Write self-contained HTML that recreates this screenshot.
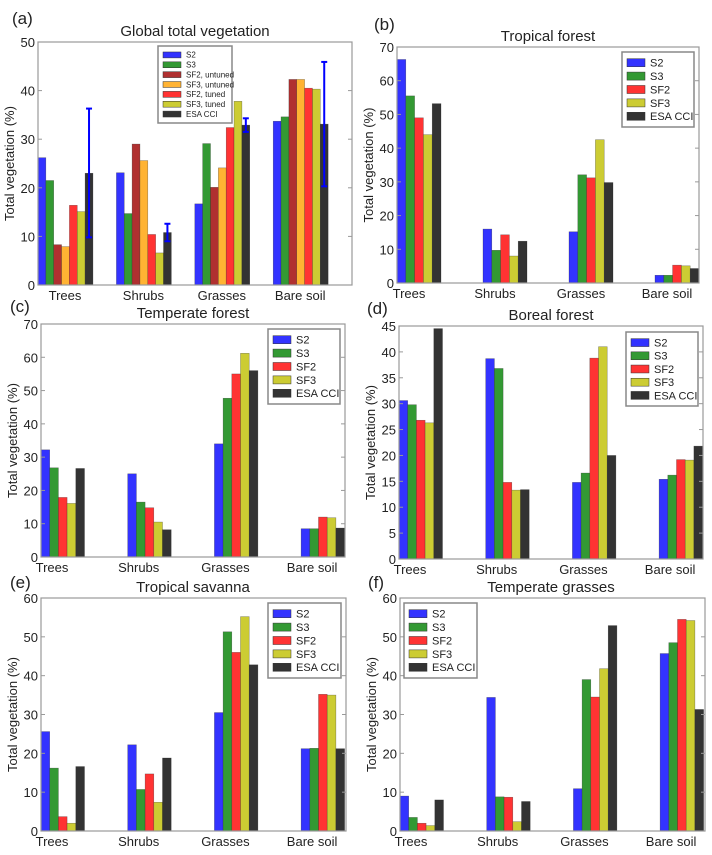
<!DOCTYPE html>
<html><head><meta charset="utf-8"><style>
body{margin:0;background:#fff}
svg{display:block;font-family:"Liberation Sans","DejaVu Sans",sans-serif}
</style></head><body>
<svg id="fig" width="712" height="855" viewBox="0 0 712 855"></svg>
<script>
const categories = ["Trees","Shrubs","Grasses","Bare soil"];
const seriesA = ["S2","S3","SF2, untuned","SF3, untuned","SF2, tuned","SF3, tuned","ESA CCI"];
const seriesB = ["S2","S3","SF2","SF3","ESA CCI"];
const valuesA = [[26.2,23.1,16.7,33.7],[21.5,14.7,29.1,34.6],[8.3,29.0,20.1,42.3],[7.9,25.6,24.1,42.3],[16.4,10.4,32.4,40.5],[15.1,6.6,37.8,40.3],[23.0,10.8,32.9,33.1]];
const errLowA = [9.8,9.0,31.5,20.3];
const errHighA = [36.3,12.6,34.3,45.9];
const valuesB = [[66.3,16,15.2,2.3],[55.5,9.7,32.1,2.3],[49,14.3,31.2,5.3],[44,8,42.5,5.1],[53.2,12.4,29.8,4.3]];
const valuesC = [[32.2,25,34,8.5],[26.8,16.5,47.7,8.5],[17.9,14.8,55,12],[16.1,10.5,61.2,11.8],[26.6,8.2,56,8.7]];
const valuesD = [[30.6,38.7,14.8,15.4],[29.8,36.8,16.6,16.2],[26.8,14.8,38.8,19.2],[26.3,13.3,41,19.1],[44.5,13.4,20,21.8]];
const valuesE = [[25.6,22.2,30.5,21.2],[16.2,10.7,51.3,21.3],[3.7,14.7,46,35.2],[2,7.4,55.2,35],[16.6,18.8,42.8,21.2]];
const valuesF = [[9,34.4,10.9,45.7],[3.5,8.8,39,48.5],[2,8.7,34.5,54.5],[1.4,2.4,41.8,54.2],[8,7.6,52.9,31.3]];
const ticksA=[0,10,20,30,40,50], ticksB=[0,10,20,30,40,50,60,70], ticksD=[0,5,10,15,20,25,30,35,40,45], ticksE=[0,10,20,30,40,50,60];

const colA=["#3333ff","#339933","#b03030","#ffb333","#ff3333","#cccc33","#333333"];
const colB=["#3333ff","#339933","#ff3333","#cccc33","#333333"];
const NS="http://www.w3.org/2000/svg";
const svg=document.getElementById('fig');
function mk(tag,attrs,parent,text){const e=document.createElementNS(NS,tag);for(const k in attrs)e.setAttribute(k,attrs[k]);if(text!==undefined)e.textContent=text;(parent||svg).appendChild(e);return e;}

function panel(p){
  const g=mk('g',{});
  
  
  const y=v=>p.bottom-(v/p.ymax)*(p.bottom-p.top);
  const n=p.series.length;
  p.values.forEach((row,si)=>{
    row.forEach((v,ci)=>{
      const x=p.left+ci*p.spacing+si*p.bw;
      const r=mk('rect',{x:x,y:y(v),width:p.bw,height:p.bottom-y(v),fill:p.colors[si],stroke:"#222",'stroke-width':0.5,'stroke-opacity':0.5},g);
      
      
    });
  });
  if(p.errLow){
    p.errLow.forEach((lo,ci)=>{
      const cx=p.left+ci*p.spacing+(n-0.5)*p.bw;
      const eg=mk('g',{stroke:"#0000ff",'stroke-width':2},g);
      
      
      mk('line',{x1:cx,x2:cx,y1:y(lo),y2:y(p.errHigh[ci])},eg);
      mk('line',{x1:cx-3,x2:cx+3,y1:y(lo),y2:y(lo)},eg);
      mk('line',{x1:cx-3,x2:cx+3,y1:y(p.errHigh[ci]),y2:y(p.errHigh[ci])},eg);
    });
  }
  const ax=mk('rect',{x:p.left,y:p.top,width:p.right-p.left,height:p.bottom-p.top,fill:"none",stroke:"#999",'stroke-width':1.2},g);
  
  
  p.ticks.forEach(t=>{
    mk('line',{x1:p.left,x2:p.left+4,y1:y(t),y2:y(t),stroke:"#999"},g);
    mk('line',{x1:p.right,x2:p.right-4,y1:y(t),y2:y(t),stroke:"#999"},g);
    const tl=mk('text',{x:p.left-3,y:y(t)+5,'text-anchor':'end','font-size':13,fill:"#222"},g,String(t));
    
    
  });
  categories.forEach((c,ci)=>{
    const cx=p.left+ci*p.spacing+p.labOff;
    const t=mk('text',{x:cx,y:p.bottom+15,'text-anchor':'middle','font-size':13,fill:"#222"},g,c);
    
    
  });
  const tt=mk('text',{x:p.titleX,y:p.top-6,'text-anchor':'middle','font-size':15,fill:"#222"},g,p.title);
  
  
  const pl=mk('text',{x:p.plX,y:p.plY,'font-size':17,fill:"#222"},g,'('+p.id+')');
  
  
  const yl=mk('text',{x:0,y:0,transform:`translate(${p.left-24},${(p.top+p.bottom)/2}) rotate(-90)`,'text-anchor':'middle','font-size':13,fill:"#222"},g,'Total vegetation (%)');
  
  
  // legend
  const L=p.leg;
  const lg=mk('g',{},g);
  
  
  mk('rect',{x:L.x,y:L.y,width:L.w,height:L.h,fill:"#fff",stroke:"#888",'stroke-width':1.5},lg);
  const step=(L.h-8)/n;
  p.series.forEach((s,si)=>{
    const yy=L.y+4+step*si+step/2;
    const e=mk('g',{},lg);
    
    
    mk('rect',{x:L.x+5,y:yy-step*0.3,width:L.sw,height:step*0.6,fill:p.colors[si],stroke:"#333",'stroke-width':0.5},e);
    mk('text',{x:L.x+L.sw+10,y:yy+L.fs*0.35,'font-size':L.fs,fill:"#222"},e,s);
  });
}

panel({id:'a',title:'Global total vegetation',left:38,right:352,top:42,bottom:285,ymax:50,ticks:ticksA,spacing:78.4,bw:7.85,labOff:27,values:valuesA,series:seriesA,colors:colA,errLow:errLowA,errHigh:errHighA,titleX:195,plX:12,plY:24,leg:{x:158,y:46,w:74,h:77,sw:18,fs:8}});
panel({id:'b',title:'Tropical forest',left:397,right:699,top:47,bottom:283,ymax:70,ticks:ticksB,spacing:86,bw:8.8,labOff:12,values:valuesB,series:seriesB,colors:colB,titleX:548,plX:374,plY:30,leg:{x:622,y:52,w:72,h:75,sw:18,fs:11}});
panel({id:'c',title:'Temperate forest',left:41,right:345,top:324,bottom:557,ymax:70,ticks:ticksB,spacing:86.7,bw:8.7,labOff:11,values:valuesC,series:seriesB,colors:colB,titleX:193,plX:10,plY:312,leg:{x:268,y:329,w:72,h:75,sw:18,fs:11}});
panel({id:'d',title:'Boreal forest',left:399,right:703,top:326,bottom:559,ymax:45,ticks:ticksD,spacing:86.7,bw:8.7,labOff:11,values:valuesD,series:seriesB,colors:colB,titleX:551,plX:367,plY:314,leg:{x:626,y:332,w:72,h:74,sw:18,fs:11}});
panel({id:'e',title:'Tropical savanna',left:41,right:346,top:598,bottom:831,ymax:60,ticks:ticksE,spacing:86.7,bw:8.7,labOff:11,values:valuesE,series:seriesB,colors:colB,titleX:193,plX:10,plY:588,leg:{x:268,y:603,w:73,h:75,sw:18,fs:11}});
panel({id:'f',title:'Temperate grasses',left:400,right:705,top:598,bottom:831,ymax:60,ticks:ticksE,spacing:86.7,bw:8.7,labOff:11,values:valuesF,series:seriesB,colors:colB,titleX:551,plX:368,plY:588,leg:{x:404,y:603,w:73,h:75,sw:18,fs:11}});
</script>
</body></html>
